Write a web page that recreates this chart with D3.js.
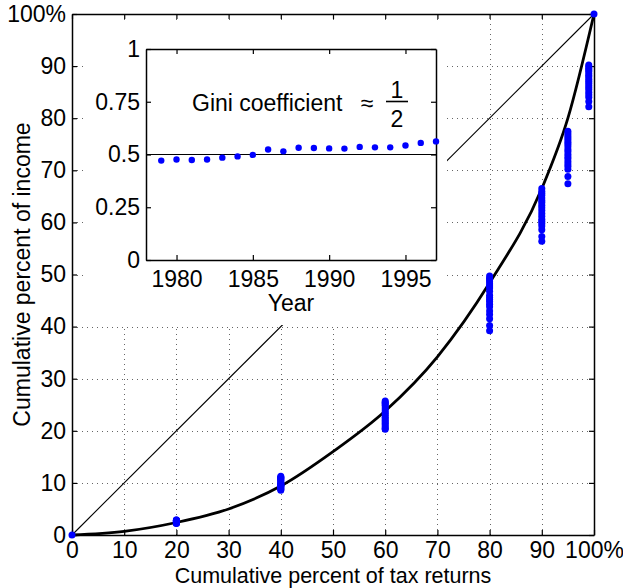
<!DOCTYPE html>
<html>
<head>
<meta charset="utf-8">
<script src="https://cdn.jsdelivr.net/npm/d3@7"></script>
<style>
  html, body { margin: 0; padding: 0; background: #fff; }
  svg { display: block; }
  text { font-family: "Liberation Sans", Arial, Helvetica, sans-serif; fill: #000; }
</style>
</head>
<body>
<svg id="chart" width="623" height="588"></svg>
<script>
// ---------- data ----------
const xTicks = [0, 10, 20, 30, 40, 50, 60, 70, 80, 90, 100];
const xTickLabels = ["0", "10", "20", "30", "40", "50", "60", "70", "80", "90", "100%"];
const yTicks = [0, 10, 20, 30, 40, 50, 60, 70, 80, 90, 100];
const yTickLabels = ["0", "10", "20", "30", "40", "50", "60", "70", "80", "90", "100%"];

// Lorenz curve (cumulative % of returns -> cumulative % of income)
const curveX = [0, 10, 20, 30, 40, 50, 60, 70, 80, 90, 95, 100];
const curveY = [0, 0.7, 2.4, 5.0, 9.4, 16.0, 23.8, 34.2, 48.4, 66.5, 80.0, 100];

// equality line
const equalX = [0, 100];
const equalY = [0, 100];

// observed points, one per year 1979..1997, by cumulative percent of returns
const returnsPct = [0, 20, 40, 60, 80, 90, 95, 99, 100];
const share0  = [0];
const share20 = [2.9, 2.9, 2.8, 2.8, 2.8, 2.7, 2.7, 2.6, 2.6, 2.5, 2.5, 2.5, 2.4, 2.4, 2.4, 2.3, 2.3, 2.3, 2.2];
const share40 = [11.3, 11.1, 11.0, 10.9, 10.7, 10.5, 10.3, 10.0, 9.9, 9.7, 9.6, 9.5, 9.4, 9.3, 9.2, 9.0, 8.9, 8.8, 8.6];
const share60 = [25.7, 25.5, 25.3, 25.0, 24.8, 24.4, 24.0, 23.6, 23.3, 23.0, 22.6, 22.3, 22.0, 21.7, 21.4, 21.1, 20.8, 20.5, 20.3];
const share80 = [49.7, 49.3, 49.0, 48.6, 48.2, 47.8, 47.4, 46.8, 46.0, 45.6, 45.2, 44.8, 44.3, 43.8, 43.0, 42.3, 41.5, 40.2, 39.2];
const share90 = [66.5, 66.0, 65.6, 65.2, 64.7, 64.2, 63.8, 63.3, 62.8, 62.3, 61.7, 61.2, 60.6, 60.2, 59.8, 59.3, 58.6, 57.3, 56.4];
const share95 = [77.5, 77.0, 76.6, 76.2, 75.8, 75.4, 75.0, 74.5, 74.0, 73.6, 73.1, 72.6, 72.2, 71.7, 71.2, 70.8, 70.2, 68.8, 67.4];
const share99 = [90.2, 89.9, 89.6, 89.3, 89.0, 88.6, 88.2, 87.9, 87.5, 87.1, 86.7, 86.3, 85.9, 85.5, 85.0, 84.5, 84.0, 83.2, 82.2];
const share100 = [100];
const shareColumns = [share0, share20, share40, share60, share80, share90, share95, share99, share100];

// inset: Gini coefficient by year
const years = [1979, 1980, 1981, 1982, 1983, 1984, 1985, 1986, 1987, 1988, 1989, 1990, 1991, 1992, 1993, 1994, 1995, 1996, 1997];
const gini  = [0.471, 0.476, 0.474, 0.476, 0.485, 0.491, 0.498, 0.524, 0.515, 0.532, 0.531, 0.529, 0.528, 0.536, 0.534, 0.534, 0.543, 0.555, 0.562];
const insetXTicks = [1980, 1985, 1990, 1995];
const insetYTicks = [0, 0.25, 0.5, 0.75, 1];
const insetYTickLabels = ["0", "0.25", "0.5", "0.75", "1"];
const giniReference = 0.5;

// ---------- layout ----------
const svg = d3.select("#chart");
const FS = 23;      // tick labels
const FT = 23;      // titles / annotation
const FX = 21.5;    // x-axis title (bottom edge)
const L = 72, R = 594, T = 14, B = 535;
const x = d3.scaleLinear().domain([0, 100]).range([L, R]);
const y = d3.scaleLinear().domain([0, 100]).range([B, T]);

// grid
const grid = svg.append("g").attr("stroke", "#666").attr("stroke-width", 1)
  .attr("stroke-dasharray", "1,4").attr("shape-rendering", "crispEdges");
grid.selectAll("line.v").data(xTicks.slice(1, -1)).join("line")
  .attr("x1", d => Math.round(x(d)) + 0.5).attr("x2", d => Math.round(x(d)) + 0.5)
  .attr("y1", B).attr("y2", T);
grid.selectAll("line.h").data(yTicks.slice(1, -1)).join("line")
  .attr("y1", d => Math.round(y(d)) + 0.5).attr("y2", d => Math.round(y(d)) + 0.5)
  .attr("x1", L).attr("x2", R);

// equality line
svg.append("line")
  .attr("x1", x(equalX[0])).attr("y1", y(equalY[0]))
  .attr("x2", x(equalX[1])).attr("y2", y(equalY[1]))
  .attr("stroke", "#000").attr("stroke-width", 1.1);

function styleAxis(g) {
  g.selectAll("path").attr("stroke", "#000").attr("stroke-width", 1.5);
  g.selectAll("line").attr("stroke", "#000").attr("stroke-width", 1.2);
  g.selectAll("text").attr("font-size", FS).attr("font-family", "Liberation Sans, Arial, sans-serif").attr("fill", "#000");
}

// inset background (covers the grid and part of the equality line)
svg.append("rect").attr("x", 84).attr("y", 22).attr("width", 363).attr("height", 303).attr("fill", "#fff");

// main axes
const xAxis = d3.axisBottom(x).tickValues(xTicks).tickFormat((d, i) => xTickLabels[i])
  .tickSizeInner(-5).tickSizeOuter(0).tickPadding(7);
const yAxis = d3.axisLeft(y).tickValues(yTicks).tickFormat((d, i) => yTickLabels[i])
  .tickSizeInner(-5).tickSizeOuter(0).tickPadding(6);
const xTop = d3.axisTop(x).tickValues(xTicks).tickFormat("").tickSizeInner(-5).tickSizeOuter(0);
const yRight = d3.axisRight(y).tickValues(yTicks).tickFormat("").tickSizeInner(-5).tickSizeOuter(0);

svg.append("g").attr("transform", `translate(0,${B})`).call(xAxis).call(styleAxis);
svg.append("g").attr("transform", `translate(${L},0)`).call(yAxis).call(styleAxis);
svg.append("g").attr("transform", `translate(0,${T})`).call(xTop).call(styleAxis);
svg.append("g").attr("transform", `translate(${R},0)`).call(yRight).call(styleAxis);

// axis titles
svg.append("text").attr("x", (L + R) / 2).attr("y", 583).attr("text-anchor", "middle")
  .attr("font-size", FX).text("Cumulative percent of tax returns");
svg.append("text").attr("transform", `translate(30,${(T + B) / 2}) rotate(-90)`)
  .attr("text-anchor", "middle").attr("font-size", FT).text("Cumulative percent of income");

// Lorenz curve
const curvePts = curveX.map((v, i) => [v, curveY[i]]);
svg.append("path").datum(curvePts)
  .attr("d", d3.line().x(d => x(d[0])).y(d => y(d[1])).curve(d3.curveMonotoneX))
  .attr("fill", "none").attr("stroke", "#000").attr("stroke-width", 2.8);

// observed dots
const dots = [];
shareColumns.forEach((col, i) => col.forEach(v => dots.push([returnsPct[i], v])));
svg.append("g").selectAll("circle").data(dots).join("circle")
  .attr("cx", d => x(d[0])).attr("cy", d => y(d[1])).attr("r", 3.5).attr("fill", "#0000ff");

// ---------- inset ----------
const iL = 146, iR = 436, iT = 49, iB = 260;
const xi = d3.scaleLinear().domain([1978, 1997]).range([iL, iR]);
const yi = d3.scaleLinear().domain([0, 1]).range([iB, iT]);

const ixAxis = d3.axisBottom(xi).tickValues(insetXTicks).tickFormat(d3.format("d"))
  .tickSizeInner(-5).tickSizeOuter(0).tickPadding(11);
const iyAxis = d3.axisLeft(yi).tickValues(insetYTicks).tickFormat((d, i) => insetYTickLabels[i])
  .tickSizeInner(-5).tickSizeOuter(0).tickPadding(6);
const ixTop = d3.axisTop(xi).tickValues(insetXTicks).tickFormat("").tickSizeInner(-5).tickSizeOuter(0);
const iyRight = d3.axisRight(yi).tickValues(insetYTicks).tickFormat("").tickSizeInner(-5).tickSizeOuter(0);

svg.append("g").attr("transform", `translate(0,${iB})`).call(ixAxis).call(styleAxis);
svg.append("g").attr("transform", `translate(${iL},0)`).call(iyAxis).call(styleAxis);
svg.append("g").attr("transform", `translate(0,${iT})`).call(ixTop).call(styleAxis);
svg.append("g").attr("transform", `translate(${iR},0)`).call(iyRight).call(styleAxis);

svg.append("text").attr("x", (iL + iR) / 2).attr("y", 311).attr("text-anchor", "middle")
  .attr("font-size", FT).text("Year");

// reference line at 1/2
svg.append("line").attr("x1", iL).attr("x2", iR)
  .attr("y1", yi(giniReference)).attr("y2", yi(giniReference))
  .attr("stroke", "#000").attr("stroke-width", 1.2);

svg.append("g").selectAll("circle").data(years.map((yr, i) => [yr, gini[i]])).join("circle")
  .attr("cx", d => xi(d[0])).attr("cy", d => yi(d[1])).attr("r", 3.2).attr("fill", "#0000ff");

// annotation: Gini coefficient ≈ 1/2
svg.append("text").attr("x", 192).attr("y", 111).attr("font-size", FT).text("Gini coefficient");
svg.append("text").attr("x", 367).attr("y", 111).attr("text-anchor", "middle").attr("font-size", FT).text("≈");
svg.append("text").attr("x", 397).attr("y", 98).attr("text-anchor", "middle").attr("font-size", FT).text("1");
svg.append("line").attr("x1", 386).attr("x2", 408).attr("y1", 101.5).attr("y2", 101.5)
  .attr("stroke", "#000").attr("stroke-width", 1.6);
svg.append("text").attr("x", 397).attr("y", 127).attr("text-anchor", "middle").attr("font-size", FT).text("2");
</script>
</body>
</html>
